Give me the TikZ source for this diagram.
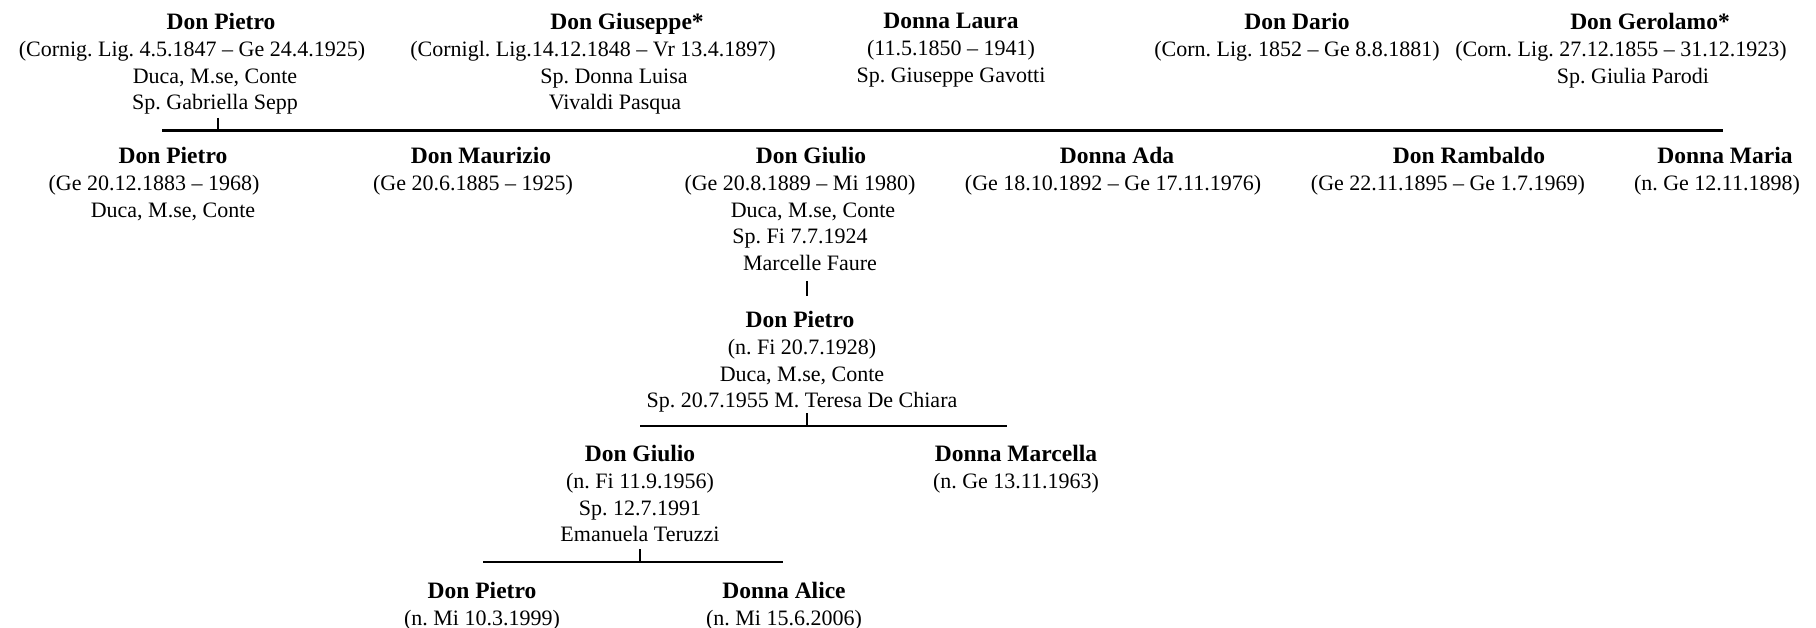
\documentclass[tikz,border=0pt]{standalone}
\usepackage{fontspec}
\setmainfont{Liberation Serif}
\frenchspacing
\newcommand\nm[1]{{\fontsize{23.5}{26.8}\selectfont\bfseries #1}}
\newcommand\rs[2]{\hspace*{#1pt}#2}
\newcommand\ls[2]{#2\hspace*{#1pt}}
\tikzset{
  person/.style={anchor=north, align=center, inner sep=0pt, font=\fontsize{22}{26.8}\selectfont\frenchspacing},
  bar/.style={line width=2.2pt},
  tickline/.style={line width=1.3pt},
}
\begin{document}
\begin{tikzpicture}[x=1pt,y=-1pt]
\useasboundingbox (0,0) rectangle (1816,628);
% generation 1
\node[person] (p1) at (192,13) {\rs{58}{\nm{Don Pietro}}\\(Cornig. Lig. 4.5.1847 – Ge 24.4.1925)\\\rs{46}{Duca, M.se, Conte}\\\rs{46}{Sp. Gabriella Sepp}};
\node[person] (g1) at (593,13) {\rs{68}{\nm{Don Giuseppe*}}\\(Cornigl. Lig.14.12.1848 – Vr 13.4.1897)\\\rs{42}{Sp. Donna Luisa}\\\rs{44}{Vivaldi Pasqua}};
\node[person] (l1) at (951,13) {\nm{Donna Laura}\\(11.5.1850 – 1941)\\Sp. Giuseppe Gavotti};
\node[person] (d1) at (1297,13) {\nm{Don Dario}\\(Corn. Lig. 1852 – Ge 8.8.1881)};
\node[person] (ge1) at (1621,13) {\rs{58}{\nm{Don Gerolamo*}}\\(Corn. Lig. 27.12.1855 – 31.12.1923)\\\rs{24}{Sp. Giulia Parodi}};
% generation 2
\node[person] (p2) at (154,147) {\rs{38}{\nm{Don Pietro}}\\(Ge 20.12.1883 – 1968)\\\rs{38}{Duca, M.se, Conte}};
\node[person] (m2) at (473,147) {\rs{16}{\nm{Don Maurizio}}\\(Ge 20.6.1885 – 1925)};
\node[person] (gi2) at (800,147) {\rs{22}{\nm{Don Giulio}}\\(Ge 20.8.1889 – Mi 1980)\\\rs{26}{Duca, M.se, Conte}\\Sp. Fi 7.7.1924\\\rs{20}{Marcelle Faure}};
\node[person] (a2) at (1113,147) {\rs{8}{\nm{Donna Ada}}\\(Ge 18.10.1892 – Ge 17.11.1976)};
\node[person] (r2) at (1448,147) {\rs{42}{\nm{Don Rambaldo}}\\(Ge 22.11.1895 – Ge 1.7.1969)};
\node[person] (ma2) at (1717,147) {\rs{16}{\nm{Donna Maria}}\\(n. Ge 12.11.1898)};
% generation 3
\node[person] (p3) at (802,311) {\ls{4}{\nm{Don Pietro}}\\\ls{10}{(n. Fi 20.7.1928)}\\\ls{14}{Duca, M.se, Conte}\\Sp. 20.7.1955 M. Teresa De Chiara};
% generation 4
\node[person] (gi4) at (640,445) {\nm{Don Giulio}\\(n. Fi 11.9.1956)\\Sp. 12.7.1991\\Emanuela Teruzzi};
\node[person] (mc4) at (1016,445) {\nm{Donna Marcella}\\(n. Ge 13.11.1963)};
% generation 5
\node[person] (p5) at (482,582) {\nm{Don Pietro}\\(n. Mi 10.3.1999)};
\node[person] (al5) at (784,582) {\nm{Donna Alice}\\(n. Mi 15.6.2006)};
% connectors
\coordinate (b1l) at (162,130.5);
\coordinate (b1r) at (1723,130.5);
\coordinate (t1) at (218,118);
\draw[bar] (b1l) -- (b1r);
\draw[tickline] (t1) -- (t1 |- b1l);
\coordinate (t2a) at (807,281);
\coordinate (t2b) at (807,296);
\draw[tickline] (t2a) -- (t2b);
\coordinate (b2l) at (640,426);
\coordinate (b2r) at (1007,426);
\coordinate (t3) at (807,413);
\draw[bar] (b2l) -- (b2r);
\draw[tickline] (t3) -- (t3 |- b2l);
\coordinate (b3l) at (483,562);
\coordinate (b3r) at (783,562);
\coordinate (t4) at (640,549);
\draw[bar] (b3l) -- (b3r);
\draw[tickline] (t4) -- (t4 |- b3l);
\end{tikzpicture}
\end{document}
